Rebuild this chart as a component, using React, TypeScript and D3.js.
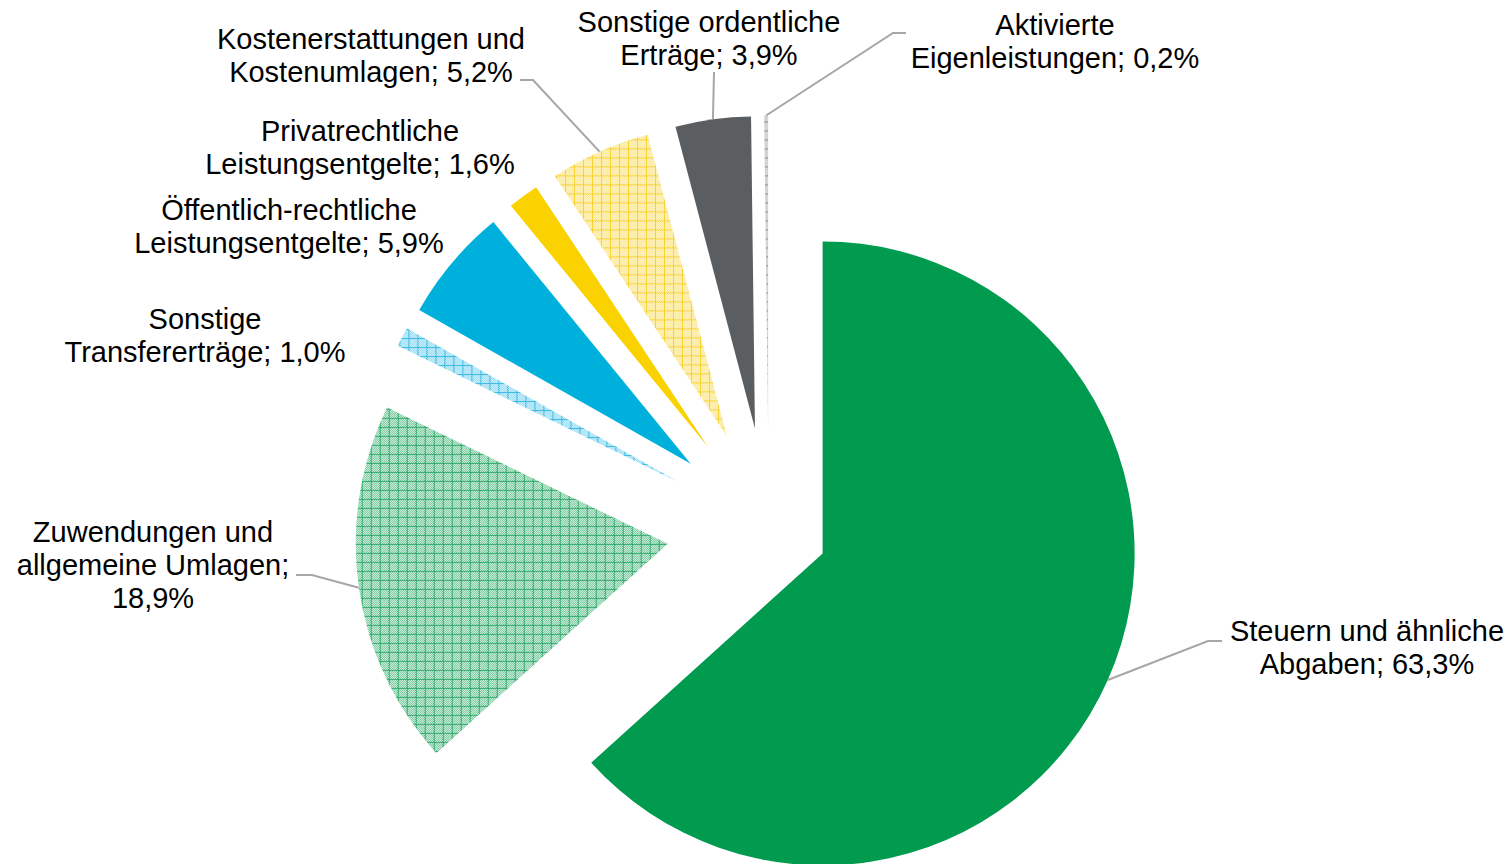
import React from "react";
import * as d3 from "d3";

const width = 1510;
const height = 864;

// data
const categories = [
  "Steuern und ähnliche Abgaben",
  "Zuwendungen und allgemeine Umlagen",
  "Sonstige Transfererträge",
  "Öffentlich-rechtliche Leistungsentgelte",
  "Privatrechtliche Leistungsentgelte",
  "Kostenerstattungen und Kostenumlagen",
  "Sonstige ordentliche Erträge",
  "Aktivierte Eigenleistungen"
];
const values = [63.3, 18.9, 1.0, 5.9, 1.6, 5.2, 3.9, 0.2];
// words per label line
const lineWords = [[3, 2], [2, 2, 1], [1, 2], [1, 2], [1, 2], [2, 2], [2, 2], [1, 2]];

// styles / layout
const cx = 768.7;
const cy = 529.5;
const radius = 312;
const explode = [59, 102, 102, 102, 102, 102, 102, 102];
const fills = [
  "#009b4e",
  "url(#hatch-green)",
  "url(#hatch-blue)",
  "#00b0dc",
  "#f9d200",
  "url(#hatch-yellow)",
  "#5b5e61",
  "url(#hatch-grey)"
];
const hatches = [
  { id: "green", dot: "#4cb87f", line: "#30aa6b" },
  { id: "blue", dot: "#6acdee", line: "#3bbbe4" },
  { id: "yellow", dot: "#f9dc5c", line: "#f6d338" },
  { id: "grey", dot: "#a8a8a8", line: "#8c8c8c" }
];
const labelPos = [
  { x: 1367, y: 641 },
  { x: 153, y: 542 },
  { x: 205, y: 329 },
  { x: 289, y: 220 },
  { x: 360, y: 141 },
  { x: 371, y: 49 },
  { x: 709, y: 32 },
  { x: 1055, y: 35 }
];
// leader lines: elbow + end near the label, null = no line
const leaders = [
  [[1208, 641], [1222, 641]],
  [[312, 575], [296, 575]],
  null,
  null,
  null,
  [[533, 80], [520, 80]],
  [[714, 72]],
  [[893, 33], [906, 33]]
];
const lineHeight = 33;

const fmt = (v: number) => d3.format(".1f")(v).replace(".", ",") + "%";

const Hatch = ({ id, dot, line }: { id: string; dot: string; line: string }) => (
  <>
    <pattern id={`chk-${id}`} width={2} height={2} patternUnits="userSpaceOnUse">
      <rect width={2} height={2} fill="#fff" />
      <rect width={1} height={1} fill={dot} />
      <rect x={1} y={1} width={1} height={1} fill={dot} />
    </pattern>
    <pattern id={`hatch-${id}`} width={9} height={9} patternUnits="userSpaceOnUse">
      <rect width={9} height={9} fill={`url(#chk-${id})`} />
      <rect width={9} height={1} fill={line} />
      <rect width={1} height={9} fill={line} />
    </pattern>
  </>
);

const App = () => {
  const slices = d3.pie<number>().sort(null).value(d => d)(values);
  const arc = d3.arc<d3.PieArcDatum<number>>().innerRadius(0).outerRadius(radius);

  const offsetOf = (i: number) => {
    const s = slices[i];
    const a = (s.startAngle + s.endAngle) / 2;
    const [ox, oy] = d3.pointRadial(a, explode[i]);
    return { a, x: cx + ox, y: cy + oy };
  };

  return (
    <svg
      width={width}
      height={height}
      style={{ position: "absolute", left: 0, top: 0, background: "#fff" }}
    >
      <defs>
        {hatches.map(h => (
          <Hatch key={h.id} {...h} />
        ))}
      </defs>
      {slices.map((s, i) => {
        const o = offsetOf(i);
        return (
          <path
            key={i}
            d={arc(s) || ""}
            transform={`translate(${o.x},${o.y})`}
            fill={fills[i]}
          />
        );
      })}
      {leaders.map((ld, i) => {
        if (!ld) return null;
        const o = offsetOf(i);
        const [px, py] = d3.pointRadial(o.a, radius);
        const pts = [[o.x + px, o.y + py], ...ld];
        return (
          <polyline
            key={i}
            points={pts.map(p => p.join(",")).join(" ")}
            fill="none"
            stroke="#a6a6a6"
            strokeWidth={2}
          />
        );
      })}
      {categories.map((name, i) => {
        const words = `${name}; ${fmt(values[i])}`.split(" ");
        let k = 0;
        const lines = lineWords[i].map(n => {
          const l = words.slice(k, k + n).join(" ");
          k += n;
          return l;
        });
        return (
          <text
            key={i}
            x={labelPos[i].x}
            y={labelPos[i].y}
            textAnchor="middle"
            fontFamily="'Liberation Sans', Arial, sans-serif"
            fontSize={29}
            fill="#000"
          >
            {lines.map((l, j) => (
              <tspan key={j} x={labelPos[i].x} dy={j === 0 ? 0 : lineHeight}>
                {l}
              </tspan>
            ))}
          </text>
        );
      })}
    </svg>
  );
};

export default App;
